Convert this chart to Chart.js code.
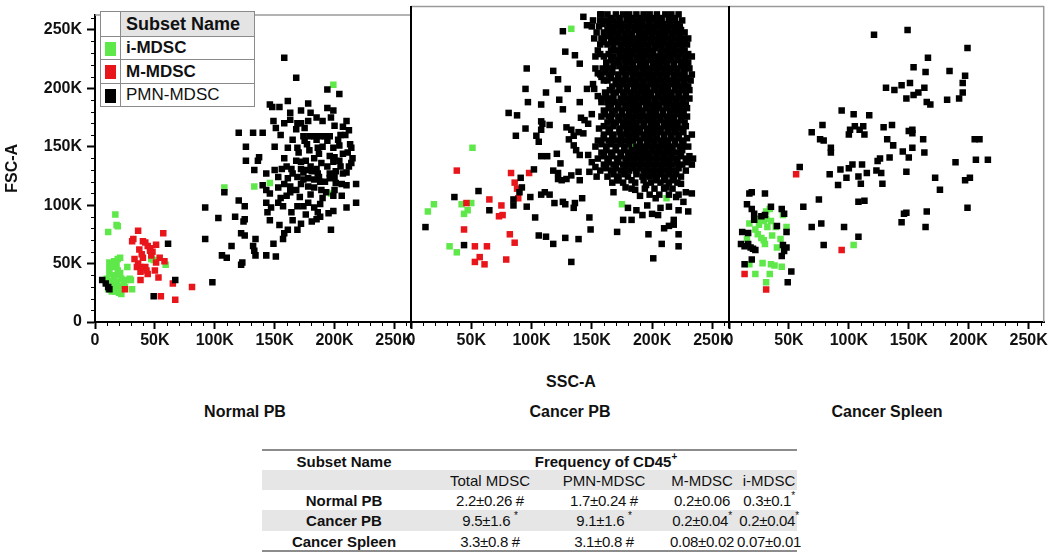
<!DOCTYPE html>
<html>
<head>
<meta charset="utf-8">
<script src="https://cdn.jsdelivr.net/npm/chart.js@4.4.1/dist/chart.umd.min.js"></script>
<style>
  body { margin: 0; background: #fff; font-family: "Liberation Sans", Arial, sans-serif; color: #111; }
  #wrap { position: relative; width: 1050px; height: 553px; overflow: hidden; }
  #wrap canvas { position: absolute; left: 0; top: 0; }
  .lbl { position: absolute; font-weight: bold; font-size: 16px; white-space: nowrap; transform: translate(-50%, -50%); }
  #legend { position: absolute; left: 100px; top: 11px; border-collapse: collapse; z-index: 5; background: #fff; }
  #legend td { border: 1px solid #8a8a8a; padding: 0; font-size: 17px; white-space: nowrap; }
  #legend .sw { width: 19px; text-align: center; }
  #legend .sw span { display: inline-block; width: 11px; height: 14px; vertical-align: middle; }
  #legend .name { width: 128px; padding-left: 5px; }
  .cell { position: absolute; font-size: 15px; white-space: nowrap; transform: translate(-50%, -50%); }
  .cell.num { letter-spacing: -0.3px; }
  .cell sup { font-size: 10px; vertical-align: top; position: relative; top: -2px; }
  .band { position: absolute; left: 262px; width: 535px; background: #e6e6e6; }
  .rule { position: absolute; left: 262px; width: 535px; height: 2px; background: #8c8c8c; }
</style>
</head>
<body>
<div id="wrap">
  <canvas id="p1" width="1050" height="350"></canvas>
  <canvas id="p2" width="1050" height="350"></canvas>
  <canvas id="p3" width="1050" height="350"></canvas>
  <table id="legend">
    <tr style="height:25px"><td class="sw"></td><td class="name" style="background:#e4e4e4;font-weight:bold;font-size:18px">Subset Name</td></tr>
    <tr style="height:23px"><td class="sw"><span style="background:#5fe84a"></span></td><td class="name" style="font-weight:bold">i-MDSC</td></tr>
    <tr style="height:24px"><td class="sw"><span style="background:#e8151b"></span></td><td class="name" style="font-weight:bold">M-MDSC</td></tr>
    <tr style="height:23px"><td class="sw"><span style="background:#000"></span></td><td class="name">PMN-MDSC</td></tr>
  </table>
  <div class="lbl" style="left:571px;top:382px">SSC-A</div>
  <div class="lbl" style="left:245px;top:412px">Normal PB</div>
  <div class="lbl" style="left:570px;top:412px">Cancer PB</div>
  <div class="lbl" style="left:887px;top:412px">Cancer Spleen</div>
  <div id="table"></div>
</div>
<script>
// values in thousands (K) of SSC-A / FSC-A
const AXIS_MAX = 263000;
const axisTicks = [0, 50000, 100000, 150000, 200000, 250000];

const normalPbGreen = [[17,92],[18,83],[19,82],[11,77],[12,51],[16,52],[19,54],[21,55],[15,47],[19,44],[12,41],[17,40],
  [10,37],[14,35],[18,34],[22,37],[26,36],[29,37],[30,36],[27,47],[15,30],[19,29],[14,26],[22,24],[31,28],[17,26],
  [13,33],[20,31],[24,33],[9,36],[16,38],[21,42],[12,46],[18,49],[47,54],[49,53],[59,49],[108,115],[133,116],[146,119],
  [199,203],[197,110],[25,30],[11,28],[20,25]];
const normalPbRed = [[36,78],[32,71],[31,69],[40,69],[42,68],[57,76],[51,66],[46,63],[46,61],[37,62],[39,58],[33,54],
  [40,55],[54,55],[58,52],[51,51],[35,47],[38,47],[42,47],[38,43],[44,41],[43,44],[50,44],[53,38],[38,36],[25,28],
  [65,33],[81,30],[67,19],[55,22],[48,60],[44,65],[36,50],[47,57]];
const normalPbBlack = [[6,36],[11,30],[49,22],[67,36],[98,34],[61,67],[12,28],[9,33],
  [158,226],[168,209],[194,199],[204,195],[146,186],[148,184],[154,184],[161,189],[178,187],[172,181],[180,179],
  [194,183],[199,181],[210,172],[207,167],[120,162],[132,162],[140,162],[149,172],[151,166],[163,179],[169,170],
  [172,170],[168,165],[165,156],[174,159],[179,159],[183,159],[188,159],[192,159],[196,159],[175,155],[185,156],
  [194,155],[126,150],[161,149],[169,149],[179,147],[186,149],[199,149],[204,151],[214,149],[137,141],[136,138],
  [126,138],[168,138],[172,137],[176,138],[183,140],[187,144],[196,142],[200,141],[207,144],[211,145],[199,137],
  [204,138],[189,136],[194,133],[214,136],[212,133],[133,130],[143,127],[156,131],[160,133],[164,131],[172,131],
  [176,130],[181,129],[185,131],[201,129],[207,127],[153,124],[161,123],[169,124],[174,122],[178,123],[183,122],
  [187,124],[192,120],[196,123],[200,124],[210,117],[218,118],[140,117],[143,113],[153,115],[158,118],[163,116],
  [172,118],[178,116],[183,115],[189,113],[193,111],[201,119],[206,118],[200,113],[199,108],[125,99],[120,104],
  [143,102],[147,98],[144,94],[153,102],[157,99],[160,108],[163,111],[169,99],[174,99],[178,102],[183,98],[188,101],
  [199,95],[210,98],[218,102],[108,111],[92,98],[103,89],[117,90],[124,86],[125,88],[146,87],[154,83],[161,79],
  [169,79],[165,87],[172,84],[181,86],[185,88],[188,90],[197,79],[122,76],[125,74],[92,71],[114,65],[106,57],
  [110,55],[122,49],[123,51],[132,65],[133,61],[134,57],[134,71],[143,57],[151,56],[149,67],[157,71],[158,76],
  [170,145],[177,152],[190,150],[203,156],[209,160],[213,152],[180,133],[186,127],[196,127],[205,133],[165,127],
  [158,140],[150,130],[146,110],[171,107],[180,109],[190,106],[206,108],[195,93],[186,94],[176,92],[164,94],
  [155,106],[150,150],[155,160],[158,170],[163,173],[185,175],[190,172],[200,168],[205,160],[212,164],[197,175],
  [175,166],[178,172],[210,128],[215,140],[188,120],[168,113],[174,128]];

const cancerPbGreen = [[133,244],[51,145],[19,98],[14,92],[42,98],[50,99],[47,93],[44,90],[32,63],[38,58],
  [165,160],[183,146],[202,143],[175,98],[212,103]];
const cancerPbRed = [[38,126],[46,99],[44,77],[53,63],[63,63],[57,54],[53,50],[61,48],[79,52],[65,102],[75,97],
  [73,88],[76,89],[83,124],[86,116],[88,111],[89,103],[98,124],[82,73],[86,66]];
const cancerPbBlackSparse = [[36,104],[56,109],[12,79],[44,64],[65,93],[85,97],[85,102],[91,120],[92,112],[90,108],
  [96,211],[95,194],[88,172],[81,174],[87,155],[95,161],[97,183],[108,181],[104,155],[106,150],[109,165],[112,191],
  [118,209],[122,202],[130,194],[126,242],[128,225],[136,222],[140,215],[143,254],[146,247],[157,256],[140,183],
  [123,185],[126,177],[108,167],[115,164],[108,160],[102,127],[99,104],[96,96],[103,87],[106,72],[112,71],[118,65],
  [128,70],[139,69],[133,50],[108,106],[111,108],[115,106],[119,99],[126,100],[128,98],[135,95],[136,99],[122,119],
  [125,118],[129,119],[133,122],[139,125],[140,118],[142,103],[148,87],[149,77],[108,138],[113,138],[121,140],
  [124,132],[131,152],[135,147],[137,143],[140,139],[118,126],[122,124],[147,139],[150,133],[153,129],[148,125],
  [154,121],[129,162],[133,160],[135,155],[139,158],[143,157],[141,170],[144,168],[147,165],[150,173],[152,194],
  [155,188],[158,183],[146,194],[151,198],[155,207],[158,204],[160,201],
  [183,85],[192,89],[200,90],[205,89],[210,78],[214,80],[218,81],[218,85],[222,73],[208,65],[222,63],[197,73],
  [201,53],[176,85],[187,93],[171,75],[180,95],[196,97],[207,95],[214,96],[222,93],[230,92],[226,100],[228,108],
  [233,107],[220,104],[190,105],[203,103],[186,110],[195,114],[212,112],[224,115],[178,112],[168,108],[172,118]];
// the packed block of the Cancer PB plot, one row per FSC-A level: [FSC-A, [SSC-A values]]
const cancerPbDenseRows = [
  [256,[158,163,170,176,181,187,193,198,204,211,216,222]],
  [251,[151,157,162,168,173,179,186,191,197,203,208,214,219,225]],
  [246,[150,156,167,172,178,184,189,195,201,206,212,218,223]],
  [241,[154,160,165,171,177,183,194,199,205,210,216,221,227]],
  [236,[152,158,169,175,180,186,191,197,203,208,214,220,226,230]],
  [231,[157,163,174,179,185,190,196,202,207,213,219,224,229]],
  [226,[155,166,171,177,183,188,194,200,211,216,222,227]],
  [221,[153,160,168,176,181,187,192,198,204,209,215,221,228,233]],
  [216,[162,170,179,184,190,195,201,207,212,218,224,230]],
  [211,[153,159,166,175,181,186,192,198,203,209,214,220,226,231]],
  [206,[157,164,172,178,184,189,195,201,206,212,218,223,233]],
  [201,[163,170,175,181,187,192,198,204,209,215,220,226,232]],
  [196,[167,173,179,185,190,196,202,207,213,219,224,230]],
  [191,[161,170,176,182,188,193,199,205,210,216,222,228]],
  [186,[158,165,174,180,185,191,196,202,208,213,219,225,231]],
  [181,[166,172,178,183,189,195,200,206,212,217,223,228]],
  [176,[160,169,175,181,186,192,198,203,209,215,220,226]],
  [171,[158,164,172,178,184,189,195,201,206,212,218,224,229]],
  [166,[163,170,176,181,187,193,199,204,210,215,221,227]],
  [161,[156,165,173,179,184,190,196,201,207,213,218,224]],
  [156,[160,168,176,182,187,193,199,204,210,216,222,233]],
  [151,[155,164,171,178,184,190,196,201,207,213,219,225]],
  [146,[153,162,170,177,187,193,199,205,210,216,223,230]],
  [141,[158,166,174,180,186,191,197,203,209,214,220]],
  [136,[155,163,171,178,184,190,195,201,207,213,219,228,234]],
  [131,[160,168,176,182,188,194,200,206,211,217,225,233]],
  [126,[157,166,174,181,187,193,199,205,211,218,228]],
  [121,[163,172,180,192,198,204,211,218,224]],
  [116,[167,176,186,199,207,214,221]],
  [111,[183,194,202,210,217]],
  [106,[198,206,214,222]]
];
// points lying between those rows inside the darkest core
const cancerPbCoreRows = [
  [253,[166,173,179,184,190,196,201,207,214,219]],
  [248,[159,164,170,175,181,187,192,198,204,209,215,221]],
  [243,[163,168,174,180,186,191,197,202,208,213,219,224]],
  [238,[161,166,172,178,183,189,194,200,206,211,217,223]],
  [233,[160,166,171,177,182,188,193,199,205,210,216,222,227]],
  [228,[168,174,180,186,191,197,203,208,214,219,225]],
  [223,[157,164,173,179,184,190,195,201,207,213,218,224,230]],
  [218,[166,172,177,182,188,193,199,205,210,216,222,227]],
  [213,[162,168,173,178,184,190,195,201,206,212,218,224,229]],
  [208,[161,167,176,182,187,193,198,204,210,215,221,227]],
  [203,[166,172,178,184,190,196,201,207,212,218,224,229]],
  [198,[170,176,182,187,193,199,204,210,216,221,227]],
  [193,[165,173,179,185,191,196,202,208,213,219,225,231]],
  [188,[162,168,177,183,188,194,199,205,211,216,222,228]],
  [183,[163,169,175,181,186,192,197,203,209,214,220,226]],
  [178,[164,172,178,184,189,195,201,206,212,218,223,229]],
  [173,[161,167,175,181,187,192,198,203,209,215,221,226]],
  [168,[166,173,179,184,190,196,201,207,213,218,224]],
  [163,[160,168,176,182,187,193,199,204,210,216,221,228]],
  [158,[164,173,179,185,190,196,202,207,213,219,226]],
  [153,[160,167,174,181,187,193,198,204,210,216,222,229]],
  [148,[158,166,174,181,190,196,202,208,213,219,226]],
  [143,[162,170,177,183,189,194,200,206,212,217,225]],
  [138,[160,167,174,181,187,193,198,204,210,216,224,231]],
  [133,[164,172,179,185,191,197,203,209,214,221,229]],
  [128,[162,170,178,184,190,196,202,208,214,222]],
  [123,[168,177,187,195,201,207,214,220]],
  [118,[171,183,193,203,210,217]]
];

const cancerSpleenGreen = [[34,94],[31,92],[26,86],[29,84],[31,86],[35,84],[17,82],[22,77],[24,73],[27,70],[29,68],
  [30,65],[39,79],[32,79],[45,89],[48,79],[43,69],[15,69],[22,40],[17,48],[28,49],[35,48],[38,47],[44,46],[34,40],
  [31,33],[104,64],[25,81],[36,72],[40,62]];
const cancerSpleenRed = [[56,123],[94,60],[13,40],[31,27]];
const cancerSpleenBlack = [[121,239],[149,243],[199,228],[166,220],[154,212],[164,208],[184,209],[197,205],[195,199],
  [195,191],[192,186],[131,195],[138,193],[144,197],[151,199],[163,195],[148,186],[154,189],[158,191],[165,183],
  [168,181],[182,185],[94,176],[104,173],[117,172],[78,164],[101,160],[105,163],[109,160],[112,163],[100,156],
  [113,156],[129,162],[136,164],[69,158],[76,152],[79,151],[85,145],[85,141],[132,152],[137,147],[150,159],[153,160],
  [153,157],[162,152],[153,145],[163,141],[145,142],[150,137],[126,136],[124,134],[134,137],[123,126],[127,124],
  [128,115],[148,125],[189,133],[206,135],[216,135],[205,152],[209,152],[172,120],[176,110],[197,118],[201,120],
  [199,95],[144,83],[148,91],[146,90],[165,92],[164,79],[59,129],[84,123],[100,128],[93,127],[91,114],[98,120],
  [108,121],[110,115],[115,124],[111,131],[103,131],[62,96],[75,102],[77,82],[69,79],[96,79],[79,64],[108,71],
  [113,101],[108,100],
  [17,107],[19,108],[30,107],[15,98],[19,94],[21,90],[21,85],[30,89],[44,94],[46,90],[11,75],[16,74],[40,80],
  [48,75],[10,65],[13,63],[16,65],[18,62],[20,61],[22,60],[45,64],[48,62],[46,59],[44,55],[19,52],[13,48],[52,42],
  [49,33],[27,88],[35,96]];

// table under the plots
const tableGroups = ['Normal PB', 'Cancer PB', 'Cancer Spleen'];
const tableSubsets = ['Total MDSC', 'PMN-MDSC', 'M-MDSC', 'i-MDSC'];
const tableValues = [
  ['2.2±0.26 #', '1.7±0.24 #', '0.2±0.06', '0.3±0.1*'],
  ['9.5±1.6 *', '9.1±1.6 *', '0.2±0.04*', '0.2±0.04*'],
  ['3.3±0.8 #', '3.1±0.8 #', '0.08±0.02', '0.07±0.01']
];

const GREEN = '#5fe84a', RED = '#e8151b', BLACK = '#000000';

const cancerPbBlack = cancerPbBlackSparse.slice();
cancerPbDenseRows.concat(cancerPbCoreRows).forEach(([y, xs]) => xs.forEach(x => cancerPbBlack.push([x, y])));

function toPoints(arr) {
  return arr.map(p => ({ x: p[0] * 1000, y: p[1] * 1000 }));
}

function kLabel(v) {
  return v === 0 ? '0' : (v / 1000) + 'K';
}

// box edges and the small ticks every 10K
const framePlugin = {
  id: 'frame',
  afterDraw(chart, args, opts) {
    const { ctx, chartArea: a, scales } = chart;
    ctx.save();
    ctx.strokeStyle = '#9a9a9a';
    ctx.lineWidth = 1.5;
    ctx.beginPath();
    ctx.moveTo(a.left, a.top + 0.5);
    ctx.lineTo(a.right, a.top + 0.5);
    if (opts.rightEdge) {
      ctx.moveTo(a.right - 0.5, a.top);
      ctx.lineTo(a.right - 0.5, a.bottom);
    }
    ctx.stroke();
    if (opts.leftEdge) {
      ctx.strokeStyle = '#000';
      ctx.lineWidth = 2;
      ctx.beginPath();
      ctx.moveTo(a.left, a.top);
      ctx.lineTo(a.left, a.bottom + 6);
      ctx.stroke();
    }
    ctx.strokeStyle = '#000';
    ctx.lineWidth = 1;
    ctx.beginPath();
    for (let v = 10000; v <= 260000; v += 10000) {
      if (v % 50000 === 0) continue;
      const px = Math.round(scales.x.getPixelForValue(v)) + 0.5;
      ctx.moveTo(px, a.bottom);
      ctx.lineTo(px, a.bottom + 4);
      if (opts.yMinor) {
        const py = Math.round(scales.y.getPixelForValue(v)) + 0.5;
        ctx.moveTo(a.left - 4, py);
        ctx.lineTo(a.left, py);
      }
    }
    ctx.stroke();
    ctx.restore();
  }
};

const tickFont = { family: 'Liberation Sans', size: 16, weight: 'bold' };
const setTicks = s => { s.ticks = axisTicks.map(v => ({ value: v })); };

function makePanel(id, black, red, green, padding, showY, frame) {
  new Chart(document.getElementById(id), {
    type: 'scatter',
    data: {
      datasets: [
        { label: 'PMN-MDSC', data: toPoints(black), backgroundColor: BLACK, borderColor: BLACK },
        { label: 'M-MDSC', data: toPoints(red), backgroundColor: RED, borderColor: RED },
        { label: 'i-MDSC', data: toPoints(green), backgroundColor: GREEN, borderColor: GREEN }
      ]
    },
    options: {
      responsive: false,
      animation: false,
      devicePixelRatio: 1,
      layout: { padding: padding },
      elements: { point: { pointStyle: 'rect', radius: 4.6, hoverRadius: 4.6, borderWidth: 0 } },
      plugins: { legend: { display: false }, tooltip: { enabled: false }, frame: frame },
      scales: {
        x: {
          type: 'linear',
          min: 0,
          max: AXIS_MAX,
          afterBuildTicks: setTicks,
          afterFit: s => { s.height = 28; },
          grid: { drawOnChartArea: false, tickLength: 7, tickWidth: 2, tickColor: '#000' },
          border: { display: true, color: '#000', width: 2 },
          ticks: { color: '#111', font: tickFont, padding: 2, maxRotation: 0, autoSkip: false, callback: kLabel }
        },
        y: {
          type: 'linear',
          display: showY,
          min: 0,
          max: AXIS_MAX,
          afterBuildTicks: setTicks,
          afterFit: s => { if (showY) s.width = 95; },
          grid: { drawOnChartArea: false, tickLength: 8, tickWidth: 2, tickColor: '#000' },
          border: { display: true, color: '#000', width: 2 },
          ticks: { color: '#111', font: tickFont, padding: 5, autoSkip: false, callback: kLabel },
          title: { display: true, text: 'FSC-A', color: '#111', font: tickFont, padding: { top: 3, bottom: 2 } }
        }
      }
    },
    plugins: [framePlugin]
  });
}

makePanel('p1', normalPbBlack, normalPbRed, normalPbGreen,
  { left: 0, right: 640, top: 6, bottom: 0 }, true, { yMinor: true });
makePanel('p2', cancerPbBlack, cancerPbRed, cancerPbGreen,
  { left: 411, right: 322, top: 6, bottom: 0 }, false, { leftEdge: true });
makePanel('p3', cancerSpleenBlack, cancerSpleenRed, cancerSpleenGreen,
  { left: 729, right: 5, top: 6, bottom: 0 }, false, { leftEdge: true, rightEdge: true });

// frequency table
const colCenters = [344, 490, 604, 702, 769];
const rowCenters = [461, 480, 500, 520, 541];
const table = document.getElementById('table');
function addCell(text, x, y, cls) {
  const d = document.createElement('div');
  d.className = 'cell ' + cls;
  d.style.left = x + 'px';
  d.style.top = y + 'px';
  if (cls === 'bold') d.style.fontWeight = 'bold';
  d.innerHTML = text.replace('*', '<sup>*</sup>');
  table.appendChild(d);
}
function addBox(cls, top, height) {
  const d = document.createElement('div');
  d.className = cls;
  d.style.top = top + 'px';
  if (height) d.style.height = height + 'px';
  table.appendChild(d);
}
addBox('rule', 449);
addBox('band', 470, 20);
addBox('band', 510, 21);
addBox('rule', 550);
addCell('Subset Name', colCenters[0], rowCenters[0], 'bold');
const head = document.createElement('div');
head.className = 'cell';
head.style.left = '606px';
head.style.top = rowCenters[0] + 'px';
head.style.fontWeight = 'bold';
head.innerHTML = 'Frequency of CD45<sup>+</sup>';
table.appendChild(head);
tableSubsets.forEach((s, i) => addCell(s, colCenters[i + 1], rowCenters[1], 'plain'));
tableGroups.forEach((g, r) => {
  addCell(g, colCenters[0], rowCenters[r + 2], 'bold');
  tableValues[r].forEach((v, i) => addCell(v, colCenters[i + 1], rowCenters[r + 2], 'num'));
});
</script>
</body>
</html>
